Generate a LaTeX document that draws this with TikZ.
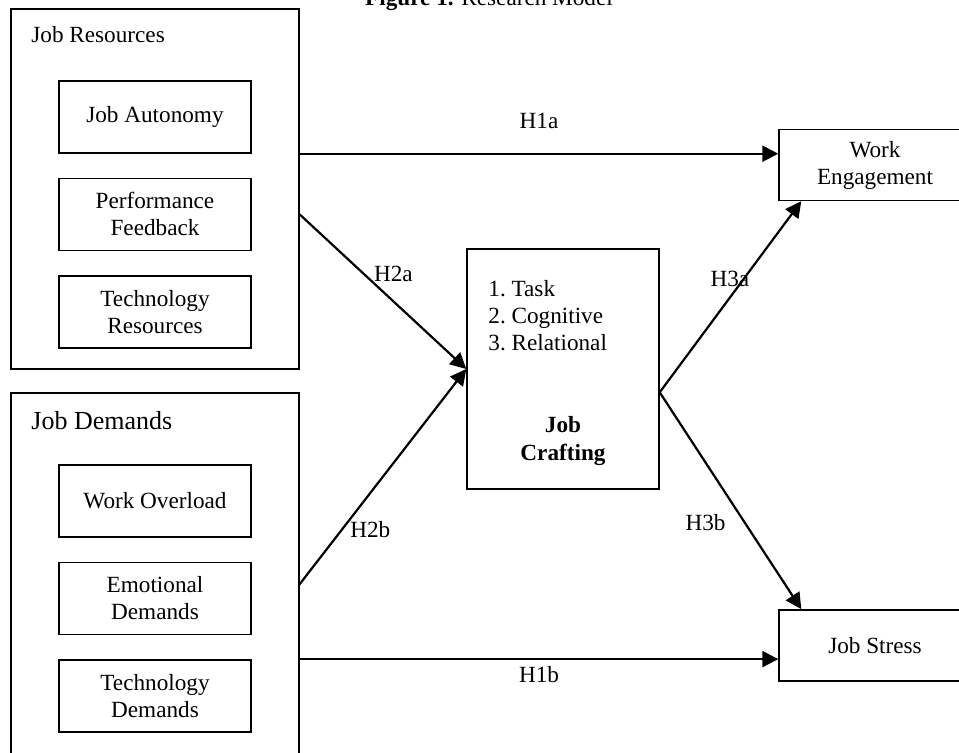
\documentclass[tikz,border=0pt]{standalone}
\usepackage{fontspec}
\setmainfont{Liberation Serif}
\usetikzlibrary{positioning,arrows.meta}

\begin{document}
\begin{tikzpicture}[
	x=0.5pt, y=-0.5pt,
	>={Triangle[length=8pt,width=8pt]},
	node distance=12pt,
	every node/.style={font=\fontsize{11.6}{13.5}\selectfont},
	group/.style={
		rectangle,
		draw,
		line width=0.7pt,
		minimum width=144pt
	},
	factor/.style={
		rectangle,
		draw,
		line width=0.7pt,
		align=center,
		minimum width=96pt,
		minimum height=36pt
	},
	path/.style={->, line width=1.1pt},
	hyp/.style={inner sep=0pt}
	]
	
	\useasboundingbox (0,0) rectangle (959,752);
	
	\node[anchor=base] (title) at (489,5) {\textbf{Figure 1.} Research Model};
	
	% job resources
	\node[group, minimum height=180pt] (resources) at (155,189) {};
	\node[anchor=base west, inner sep=0pt] (reslabel) at (31,42) {Job Resources};
	\node[factor] (autonomy) at (155,117) {Job Autonomy};
	\node[factor] (feedback) [below=of autonomy] {Performance\\Feedback};
	\node[factor] (techres) [below=of feedback] {Technology\\Resources};
	
	% job demands
	\node[group, minimum height=200pt] (demands) at (155,593) {};
	\node[anchor=base west, inner sep=0pt, font=\fontsize{13}{15}\selectfont] (demlabel) at (31,429) {Job Demands};
	\node[factor] (overload) at (155,501) {Work Overload};
	\node[factor] (emotional) [below=of overload] {Emotional\\Demands};
	\node[factor] (techdem) [below=of emotional] {Technology\\Demands};
	
	% mediator
	\node[factor, minimum height=120pt] (crafting) at (563,369) {};
	\node[anchor=north west, inner sep=0pt, align=left] (dimensions) at (488,280) {1.\ Task\\2.\ Cognitive\\3.\ Relational};
	\node[anchor=north, inner sep=0pt, align=center, font=\fontsize{11.6}{14}\selectfont\bfseries] (craftlabel) at (563,416) {Job\\Crafting};
	
	% outcomes
	\node[factor, minimum height=35.5pt] (engagement) at (875,165) {Work\\Engagement};
	\node[factor, minimum height=35.5pt] (stress) [below=204pt of engagement] {Job Stress};
	
	% hypotheses
	\coordinate (h2bstart) at (299,585);
	\coordinate (split) at (crafting.east |- demands.north);
	
	\draw[path] (resources.east |- autonomy.south) -- node[hyp, above=12pt] {H1a} (engagement.west |- autonomy.south);
	\draw[path] (demands.east |- techdem.north) -- node[hyp, below=3pt] {H1b} (stress.west |- techdem.north);
	\draw[path] (resources.east |- feedback) -- node[hyp, pos=0.44, anchor=south west] {H2a} (crafting.west);
	\draw[path] (h2bstart) -- node[hyp, pos=0.3, anchor=north west] {H2b} (crafting.west);
	\draw[path] (split) -- node[hyp, pos=0.64, anchor=north east] {H3a} ([xshift=11.5pt]engagement.south west);
	\draw[path] (split) -- node[hyp, pos=0.6, left=9pt] {H3b} ([xshift=11.5pt]stress.north west);
	
\end{tikzpicture}
\end{document}
